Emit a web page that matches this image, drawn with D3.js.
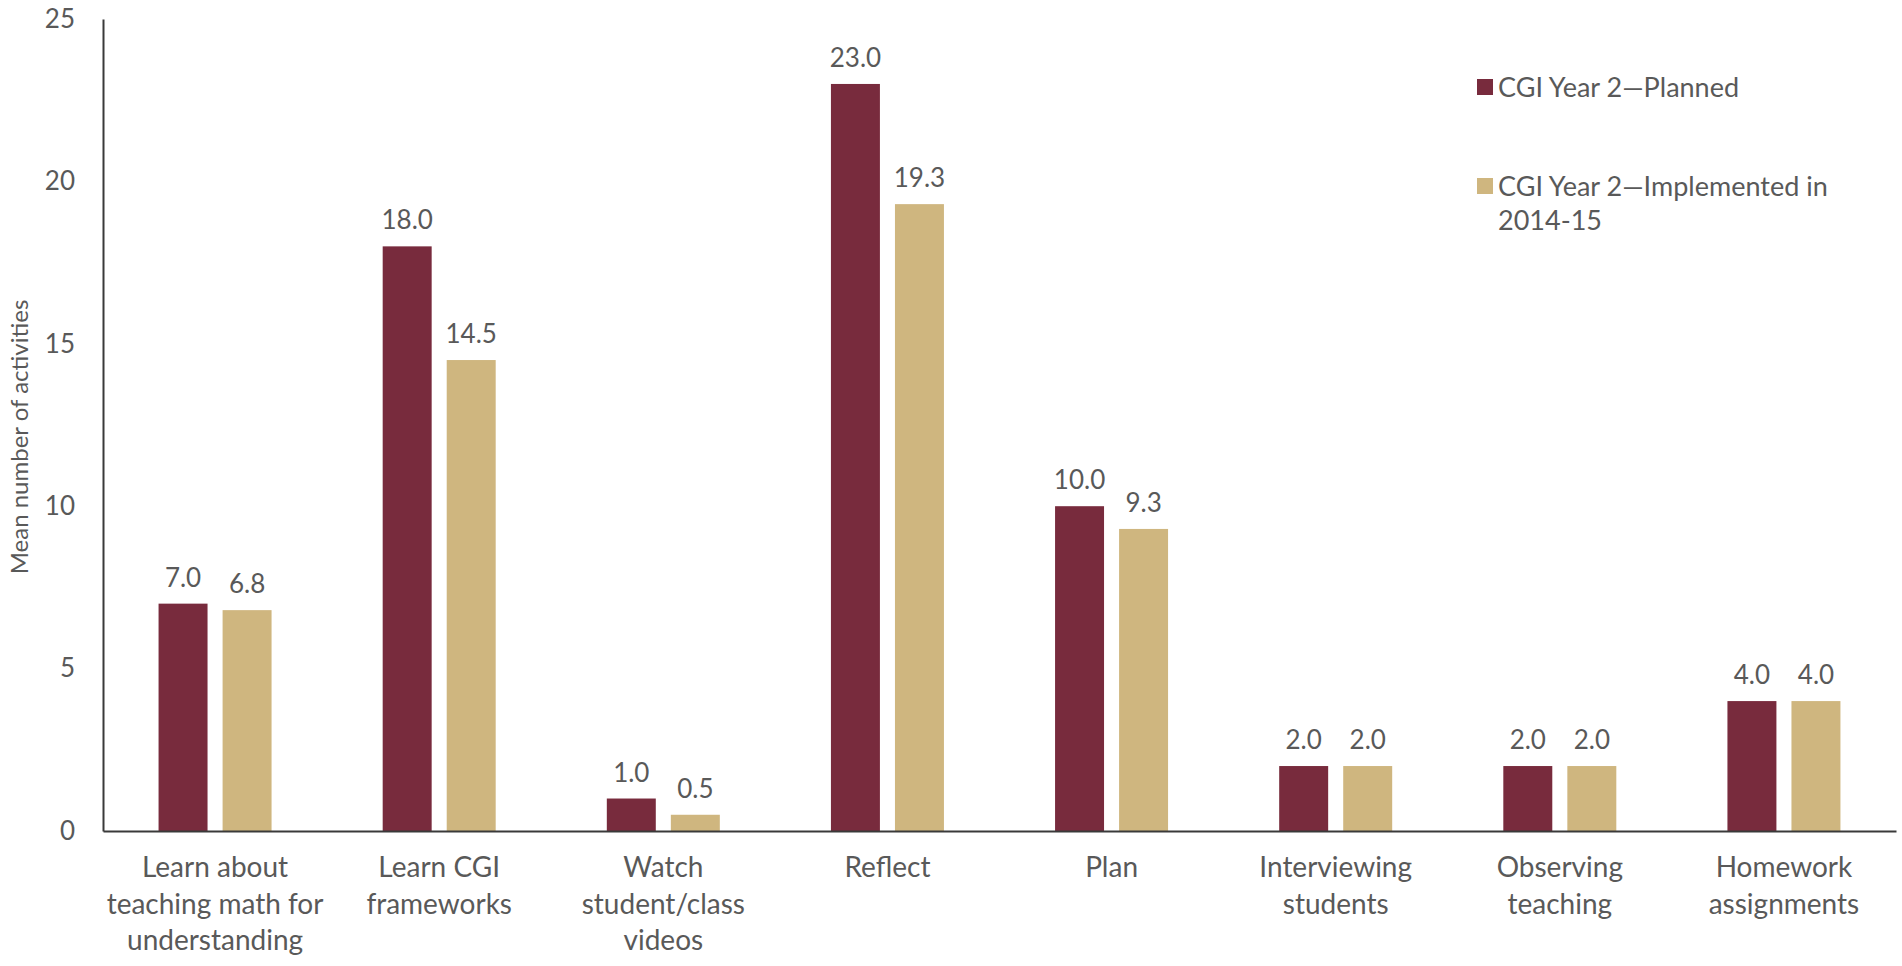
<!DOCTYPE html>
<html>
<head>
<meta charset="utf-8">
<script src="https://cdn.jsdelivr.net/npm/d3@7"></script>
<style>
  html, body { margin: 0; padding: 0; background: #fff; }
  svg { display: block; font-family: Lato, 'Open Sans', sans-serif; }
</style>
</head>
<body>
<svg id="chart"></svg>
<script>
const width = 1902
const height = 966

// data
const categories = [
  ['Learn about', 'teaching math for', 'understanding'],
  ['Learn CGI', 'frameworks'],
  ['Watch', 'student/class', 'videos'],
  ['Reflect'],
  ['Plan'],
  ['Interviewing', 'students'],
  ['Observing', 'teaching'],
  ['Homework', 'assignments'],
]
const planned = [7.0, 18.0, 1.0, 23.0, 10.0, 2.0, 2.0, 4.0]
const implemented = [6.8, 14.5, 0.5, 19.3, 9.3, 2.0, 2.0, 4.0]
const seriesNames = ['CGI Year 2\u2014Planned', ['CGI Year 2\u2014Implemented in', '2014-15']]
const yTicks = [0, 5, 10, 15, 20, 25]

const colors = ['#782b3d', '#cfb67f']
const textColor = '#595959'

const margin = { top: 19, right: 6, bottom: 135, left: 103 }

const svg = d3.select('#chart').attr('width', width).attr('height', height)

const x0 = d3.scaleBand()
  .domain(d3.range(categories.length))
  .range([margin.left, width - margin.right])
  .paddingInner(0)
  .paddingOuter(0)

const x1 = d3.scaleBand()
  .domain([0, 1])
  .range([0, 113])
  .paddingInner(0.235)

const y = d3.scaleLinear()
  .domain([0, 25])
  .range([height - margin.bottom, margin.top])

const rows = categories.map((c, i) => ({ i, values: [planned[i], implemented[i]] }))

const groups = svg.append('g')
  .selectAll('g')
  .data(rows)
  .join('g')
  .attr('transform', (d) => `translate(${x0(d.i) + (x0.bandwidth() - 113) / 2},0)`)

groups.selectAll('rect')
  .data((d) => d.values.map((v, s) => ({ v, s })))
  .join('rect')
  .attr('x', (d) => x1(d.s))
  .attr('width', x1.bandwidth())
  .attr('y', (d) => y(d.v))
  .attr('height', (d) => y(0) - y(d.v))
  .attr('fill', (d) => colors[d.s])

groups.selectAll('text.val')
  .data((d) => d.values.map((v, s) => ({ v, s })))
  .join('text')
  .attr('class', 'val')
  .attr('x', (d) => x1(d.s) + x1.bandwidth() / 2)
  .attr('y', (d) => y(d.v) - 17)
  .attr('text-anchor', 'middle')
  .attr('font-size', 26)
  .attr('fill', textColor)
  .text((d) => d3.format('.1f')(d.v))

// y axis
const yAxis = svg.append('g')
  .attr('transform', `translate(${margin.left},0)`)
  .call(d3.axisLeft(y).tickValues(yTicks).tickSize(0).tickPadding(28))
yAxis.select('.domain').attr('stroke', '#3a3a3a').attr('stroke-width', 2)
yAxis.selectAll('text').attr('font-size', 26).attr('fill', textColor)
  .attr('font-family', 'Lato, sans-serif')

// x axis
const xAxis = svg.append('g')
  .attr('transform', `translate(0,${y(0)})`)
  .call(d3.axisBottom(x0).tickSize(0).tickFormat(''))
xAxis.select('.domain').attr('stroke', '#3a3a3a').attr('stroke-width', 2)

xAxis.selectAll('.tick').each(function (i) {
  const t = d3.select(this).append('text')
    .attr('text-anchor', 'middle')
    .attr('font-size', 28)
    .attr('font-family', 'Lato, sans-serif')
    .attr('fill', textColor)
  categories[i].forEach((line, k) => {
    t.append('tspan').attr('x', 0).attr('y', 46 + k * 36.5).text(line)
  })
})

// y title
svg.append('text')
  .attr('transform', `translate(28,${(y(0) + y(25)) / 2 + 12}) rotate(-90)`)
  .attr('text-anchor', 'middle')
  .attr('font-size', 24)
  .attr('fill', textColor)
  .text('Mean number of activities')

// legend
const legend = svg.append('g').attr('transform', 'translate(1477,0)')
const legendY = [87, 186]
seriesNames.forEach((name, s) => {
  const g = legend.append('g').attr('transform', `translate(0,${legendY[s]})`)
  g.append('rect').attr('x', 0).attr('y', -8).attr('width', 16).attr('height', 16).attr('fill', colors[s])
  const lines = Array.isArray(name) ? name : [name]
  const t = g.append('text').attr('font-size', 27).attr('fill', textColor)
  lines.forEach((line, k) => {
    t.append('tspan').attr('x', 21).attr('y', 10 + k * 34).text(line)
  })
})
</script>
</body>
</html>
